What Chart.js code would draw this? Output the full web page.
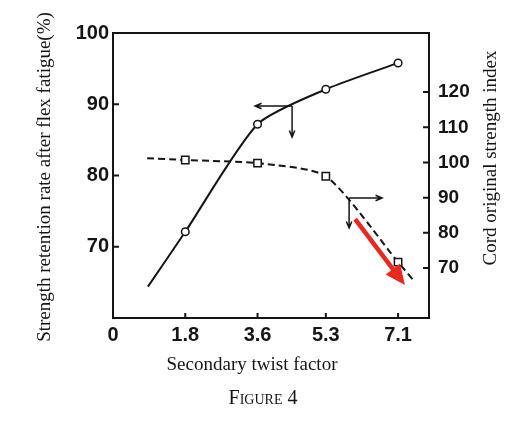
<!DOCTYPE html>
<html>
<head>
<meta charset="utf-8">
<script src="https://cdn.jsdelivr.net/npm/chart.js@4.4.1/dist/chart.umd.min.js"></script>
<style>
  html, body { margin: 0; padding: 0; background: #fff; }
  canvas { display: block; }
</style>
</head>
<body>
<canvas id="fig4" width="506" height="424"></canvas>
<script>
    // values
    const twistTicks = [0, 1.8, 3.6, 5.3, 7.1];
    const retentionTicks = [70, 80, 90, 100];
    const indexTicks = [70, 80, 90, 100, 110, 120];

    const retentionX = [0.87, 1.8, 3.6, 5.3, 7.1];
    const retentionY = [64.4, 72.1, 87.2, 92.1, 95.8];

    const indexX = [0.85, 1.8, 3.6, 5.3, 7.1, 7.52];
    const indexY = [101.2, 100.7, 99.8, 96.1, 71.7, 66.0];

    const ink = "#151515";
    const serif = "'Liberation Serif', 'DejaVu Serif', serif";
    const sans = "'Liberation Sans', Arial, sans-serif";

    function toPoints(xs, ys) {
      return xs.map((x, i) => ({ x, y: ys[i] }));
    }

    function markAt(r) {
      return ctx => twistTicks.includes(ctx.raw.x) ? r : 0;
    }

    function fixTicks(values) {
      return scale => { scale.ticks = values.map(value => ({ value })); };
    }

    function thinArrow(ctx, x1, y1, x2, y2) {
      const ang = Math.atan2(y2 - y1, x2 - x1);
      ctx.beginPath();
      ctx.moveTo(x1, y1);
      ctx.lineTo(x2, y2);
      ctx.moveTo(x2 - 7 * Math.cos(ang - 0.4), y2 - 7 * Math.sin(ang - 0.4));
      ctx.lineTo(x2, y2);
      ctx.lineTo(x2 - 7 * Math.cos(ang + 0.4), y2 - 7 * Math.sin(ang + 0.4));
      ctx.stroke();
    }

    // axis keys (in data units)
    const leftKey = { x: 4.46, y: 89.75, toX: 3.54, toY: 85.4 };
    const rightKey = { x: 5.88, y: 89.9, toX: 6.70, toY: 81.4 };
    const redArrow = { x1: 6.03, y1: 83.9, x2: 7.27, y2: 65.2 };

    const figurePlugin = {
      id: "figure4",
      beforeDatasetsDraw(chart) {
        const { ctx, chartArea: a, scales } = chart;
        ctx.save();
        ctx.strokeStyle = ink;
        ctx.lineWidth = 2;
        ctx.strokeRect(a.left, a.top, a.right - a.left, a.bottom - a.top);
        ctx.beginPath();
        retentionTicks.forEach(v => {
          const y = scales.y.getPixelForValue(v);
          ctx.moveTo(a.left, y); ctx.lineTo(a.left + 6, y);
        });
        indexTicks.forEach(v => {
          const y = scales.y2.getPixelForValue(v);
          ctx.moveTo(a.right, y); ctx.lineTo(a.right - 6, y);
        });
        twistTicks.slice(1).forEach(v => {
          const x = scales.x.getPixelForValue(v);
          ctx.moveTo(x, a.bottom); ctx.lineTo(x, a.bottom - 5);
        });
        ctx.stroke();
        ctx.restore();
      },
      afterDatasetsDraw(chart) {
        const { ctx, scales } = chart;
        const sx = scales.x, sy = scales.y, sy2 = scales.y2;
        ctx.save();
        ctx.strokeStyle = ink;
        ctx.lineWidth = 1.5;
        let px = sx.getPixelForValue(leftKey.x), py = sy.getPixelForValue(leftKey.y);
        thinArrow(ctx, px, py, sx.getPixelForValue(leftKey.toX), py);
        thinArrow(ctx, px, py, px, sy.getPixelForValue(leftKey.toY));
        px = sx.getPixelForValue(rightKey.x); py = sy2.getPixelForValue(rightKey.y);
        thinArrow(ctx, px, py, sx.getPixelForValue(rightKey.toX), py);
        thinArrow(ctx, px, py, px, sy2.getPixelForValue(rightKey.toY));

        // red arrow
        const x1 = sx.getPixelForValue(redArrow.x1), y1 = sy2.getPixelForValue(redArrow.y1);
        const x2 = sx.getPixelForValue(redArrow.x2), y2 = sy2.getPixelForValue(redArrow.y2);
        const ang = Math.atan2(y2 - y1, x2 - x1);
        const head = 20, half = 9;
        const bx = x2 - head * Math.cos(ang), by = y2 - head * Math.sin(ang);
        ctx.strokeStyle = "#e8291f";
        ctx.fillStyle = "#e8291f";
        ctx.lineWidth = 4.5;
        ctx.beginPath();
        ctx.moveTo(x1, y1);
        ctx.lineTo(bx + 2 * Math.cos(ang), by + 2 * Math.sin(ang));
        ctx.stroke();
        ctx.beginPath();
        ctx.moveTo(x2, y2);
        ctx.lineTo(bx - half * Math.sin(ang), by + half * Math.cos(ang));
        ctx.lineTo(bx + half * Math.sin(ang), by - half * Math.cos(ang));
        ctx.closePath();
        ctx.fill();
        ctx.restore();
      },
      afterDraw(chart) {
        const ctx = chart.ctx;
        ctx.save();
        ctx.fillStyle = ink;
        ctx.textAlign = "center";
        ctx.textBaseline = "middle";
        ctx.font = "19px " + serif;

        ctx.save();
        ctx.translate(45, 177);
        ctx.rotate(-Math.PI / 2);
        ctx.fillText("Strength retention rate after flex fatigue(%)", 0, 0);
        ctx.restore();

        ctx.save();
        ctx.translate(491, 158);
        ctx.rotate(-Math.PI / 2);
        ctx.fillText("Cord original strength index", 0, 0);
        ctx.restore();

        ctx.fillText("Secondary twist factor", 252, 365);
        ctx.font = "small-caps 20px " + serif;
        ctx.fillText("Figure 4", 263, 399);
        ctx.restore();
      }
    };

    new Chart(document.getElementById("fig4"), {
      type: "line",
      data: {
        datasets: [{
          label: "Strength retention rate",
          data: toPoints(retentionX, retentionY),
          yAxisID: "y",
          borderColor: ink,
          borderWidth: 2,
          tension: 0.22,
          pointStyle: "circle",
          pointRadius: markAt(3.8),
          pointBackgroundColor: "#fff",
          pointBorderColor: ink,
          pointBorderWidth: 1.5
        }, {
          label: "Cord original strength index",
          data: toPoints(indexX, indexY),
          yAxisID: "y2",
          borderColor: ink,
          borderWidth: 2,
          borderDash: [7, 4],
          tension: 0.22,
          pointStyle: "rect",
          pointRadius: markAt(5.2),
          pointBackgroundColor: "#fff",
          pointBorderColor: ink,
          pointBorderWidth: 1.5
        }]
      },
      options: {
        responsive: false,
        animation: false,
        devicePixelRatio: 1,
        layout: { padding: { top: 33, left: 0, right: 0, bottom: 0 } },
        plugins: { legend: { display: false }, tooltip: { enabled: false } },
        scales: {
          x: {
            type: "linear",
            min: 0,
            max: 7.87,
            afterBuildTicks: fixTicks(twistTicks),
            afterFit: s => { s.height = 106; },
            grid: { display: false, drawTicks: false },
            border: { display: false },
            ticks: {
              color: ink,
              padding: 5,
              maxRotation: 0,
              font: { family: sans, size: 20, weight: "bold" },
              callback: v => String(v)
            }
          },
          y: {
            position: "left",
            min: 60,
            max: 100,
            afterBuildTicks: fixTicks(retentionTicks),
            afterFit: s => { s.width = 113; },
            grid: { display: false, drawTicks: false },
            border: { display: false },
            ticks: { color: ink, padding: 4, font: { family: sans, size: 20, weight: "bold" } }
          },
          y2: {
            position: "right",
            min: 55.8,
            max: 136.8,
            afterBuildTicks: fixTicks(indexTicks),
            afterFit: s => { s.width = 77; },
            grid: { display: false, drawTicks: false },
            border: { display: false },
            ticks: { color: ink, padding: 9, font: { family: sans, size: 19, weight: "bold" } }
          }
        }
      },
      plugins: [figurePlugin]
    });
</script>
</body>
</html>
